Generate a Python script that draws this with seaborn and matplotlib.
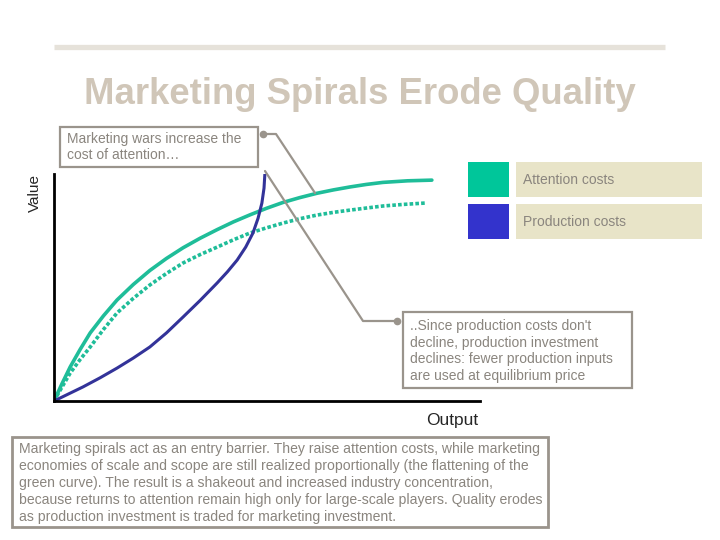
import numpy as np
import pandas as pd
import matplotlib
matplotlib.use("Agg")
import matplotlib.pyplot as plt
from matplotlib.patches import Rectangle
import seaborn as sns

sns.set_style("white")
plt.rcParams["font.family"] = ["Liberation Sans", "DejaVu Sans"]

# ── data (output / value on 0-100 scale) ─────────────────────────────────────
att_x  = [0, 1.9, 3.8, 6.1, 8.5, 11.6, 14.8, 18.6, 22.5, 26.4, 30.3, 34.3, 38.3,
          42.1, 46.0, 49.9, 53.8, 57.7, 61.7, 65.6, 69.5, 73.3, 77.2, 83.0, 88.7]
att_y  = [0, 7.7, 15.0, 22.6, 30.0, 37.5, 44.5, 51.3, 57.5, 62.8, 67.5, 71.7, 75.5,
          78.9, 82.0, 84.9, 87.5, 89.6, 91.5, 93.0, 94.3, 95.4, 96.3, 97.0, 97.3]
old_x  = [0, 1.9, 3.8, 6.1, 8.5, 11.6, 14.8, 18.6, 22.5, 26.4, 30.3, 34.3, 38.3,
          42.1, 46.0, 49.9, 53.8, 57.7, 61.7, 65.6, 69.5, 73.3, 77.2, 82.0, 87.1]
old_y  = [0, 6.2, 12.3, 18.2, 23.8, 31.5, 38.8, 45.2, 51.1, 56.2, 60.8, 64.5, 67.8,
          71.0, 74.0, 76.3, 78.4, 80.3, 81.9, 83.1, 84.1, 85.0, 85.9, 86.6, 87.2]
prod_x = [0, 3.4, 6.8, 10.8, 14.8, 18.6, 22.5, 26.4, 30.3, 34.3, 38.3, 40.7, 43.0,
          45.0, 46.7, 47.9, 48.8, 49.3, 49.5]
prod_y = [0, 3.1, 6.2, 10.2, 14.5, 18.9, 23.8, 30.0, 37.0, 44.3, 52.0, 56.9, 62.1,
          67.8, 74.0, 80.5, 87.2, 93.8, 100.0]

legend_labels = ["Attention costs", "Production costs"]
title = "Marketing Spirals Erode Quality"
note_top = "Marketing wars increase the\ncost of attention…"
note_mid = ("..Since production costs don't\ndecline, production investment\n"
            "declines: fewer production inputs\nare used at equilibrium price")
note_bottom = ("Marketing spirals act as an entry barrier. They raise attention costs, while marketing\n"
               "economies of scale and scope are still realized proportionally (the flattening of the\n"
               "green curve). The result is a shakeout and increased industry concentration,\n"
               "because returns to attention remain high only for large-scale players. Quality erodes\n"
               "as production investment is traded for marketing investment.")

TEAL_LINE = "#1fbd99"
TEAL_BOX  = "#00c69a"
BLUE_LINE = "#333399"
BLUE_BOX  = "#3333cc"
GRAY      = "#9a948c"
TXT       = "#8a857e"
BEIGE     = "#e8e4c8"

W, H = 720, 540
fig = plt.figure(figsize=(7.2, 5.4), dpi=100)

# ── chart axes ───────────────────────────────────────────────────────────────
ax = fig.add_axes([54/W, (H-401)/H, 426/W, 227/H])
sns.lineplot(x=att_x, y=att_y, ax=ax, color=TEAL_LINE, lw=2.6, sort=False)
sns.lineplot(x=old_x, y=old_y, ax=ax, color=TEAL_LINE, lw=2.6, sort=False, ls=(0, (1, 0.6)))
sns.lineplot(x=prod_x, y=prod_y, ax=ax, color=BLUE_LINE, lw=2.2, sort=False)
ax.set_xlim(0, 100)
ax.set_ylim(0, 100)
ax.set_xticks([]); ax.set_yticks([])
for s in ["top", "right"]:
    ax.spines[s].set_visible(False)
for s in ["left", "bottom"]:
    ax.spines[s].set_color("black")
    ax.spines[s].set_linewidth(2)
ax.patch.set_alpha(0)

# ── overlay in pixel coordinates ─────────────────────────────────────────────
ov = fig.add_axes([0, 0, 1, 1], zorder=5)
ov.set_xlim(0, W); ov.set_ylim(H, 0); ov.axis("off"); ov.patch.set_alpha(0)

ov.plot([54, 665], [47, 47], color="#e6e2da", lw=3.8, solid_capstyle="butt")
ov.text(360, 94, title, ha="center", va="center", fontsize=26.3,
        fontweight="bold", color="#d0c6b8")

ov.text(35, 193, "Value", rotation=90, ha="center", va="center", fontsize=11)
ov.text(452, 420, "Output", ha="center", va="center", fontsize=12.5)

# legend
for i, (lab, c) in enumerate(zip(legend_labels, [TEAL_BOX, BLUE_BOX])):
    y0 = 162 + i*42
    ov.add_patch(Rectangle((468, y0), 41, 35, color=c, lw=0))
    ov.add_patch(Rectangle((516, y0), 186, 35, color=BEIGE, lw=0))
    ov.text(523, y0+18, lab, va="center", fontsize=10, color=TXT)

# callout boxes
ov.add_patch(Rectangle((60, 127), 198, 40, fill=False, ec=GRAY, lw=1.6))
ov.text(67, 147, note_top, va="center", fontsize=10, color=TXT, linespacing=1.2)
ov.add_patch(Rectangle((403, 312), 229, 76, fill=False, ec=GRAY, lw=1.6))
ov.text(410, 351, note_mid, va="center", fontsize=10, color=TXT, linespacing=1.22)
ov.add_patch(Rectangle((12, 437), 536, 90, fill=False, ec=GRAY, lw=2))
ov.text(19, 483, note_bottom, va="center", fontsize=10.1, color=TXT, linespacing=1.27)

# connectors
ov.plot([263, 276, 315], [134, 134, 193], color=GRAY, lw=1.6)
ov.plot([263], [134], "o", color=GRAY, ms=4.5)
ov.plot([265, 363, 397], [171, 321, 321], color=GRAY, lw=1.6)
ov.plot([397], [321], "o", color=GRAY, ms=4.5)

fig.savefig("out.png", dpi=100)
